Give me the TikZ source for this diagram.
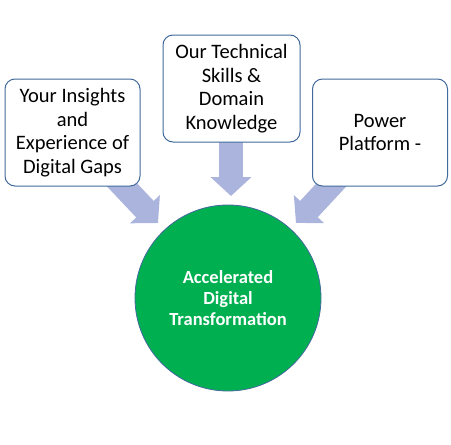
\documentclass[tikz,border=0pt]{standalone}
\usepackage{fontspec}
\setmainfont{Carlito}
\usetikzlibrary{arrows.meta,backgrounds}
\definecolor{boxline}{RGB}{65,105,155}
\definecolor{arrowfill}{RGB}{170,180,220}
\definecolor{circfill}{RGB}{0,176,80}
\begin{document}
\begin{tikzpicture}[x=1pt,y=-1pt,
 inbox/.style={draw=boxline, line width=1pt, fill=white, rounded corners=10pt,
   minimum width=135pt, minimum height=107pt, align=center, inner sep=0pt,
   font=\fontsize{20.5}{23.5}\selectfont},
 hub/.style={circle, draw=boxline, line width=0.8pt, fill=circfill, minimum size=186pt,
   inner sep=0pt, align=center, text=white, font=\bfseries\fontsize{18.5}{21}\selectfont},
 bigarrow/.style={draw=arrowfill, line width=24pt, -{Triangle[width=40pt,length=19pt,fill=arrowfill]}}]
\useasboundingbox (0,0) rectangle (451,445);
\node[inbox] (L) at (72.5,132.5) {Your Insights\\and\\Experience of\\Digital Gaps};
\node[inbox, minimum width=137pt] (M) at (231.5,88.5) {Our Technical\\Skills \&\\Domain\\Knowledge};
\node[inbox] (R) at (380,132.5) {Power\\Platform -};
\node[hub] (C) at (228,298) {Accelerated\\Digital\\Transformation};
\coordinate (lt) at (158,223);
\coordinate (mt) at (231,196);
\coordinate (rt) at (296,223);
\begin{scope}[on background layer]
\draw[bigarrow] (L.center) -- (lt);
\draw[bigarrow] ([xshift=-0.5pt]M.center) -- (mt);
\draw[bigarrow] (R.center) -- (rt);
\end{scope}
\end{tikzpicture}
\end{document}
